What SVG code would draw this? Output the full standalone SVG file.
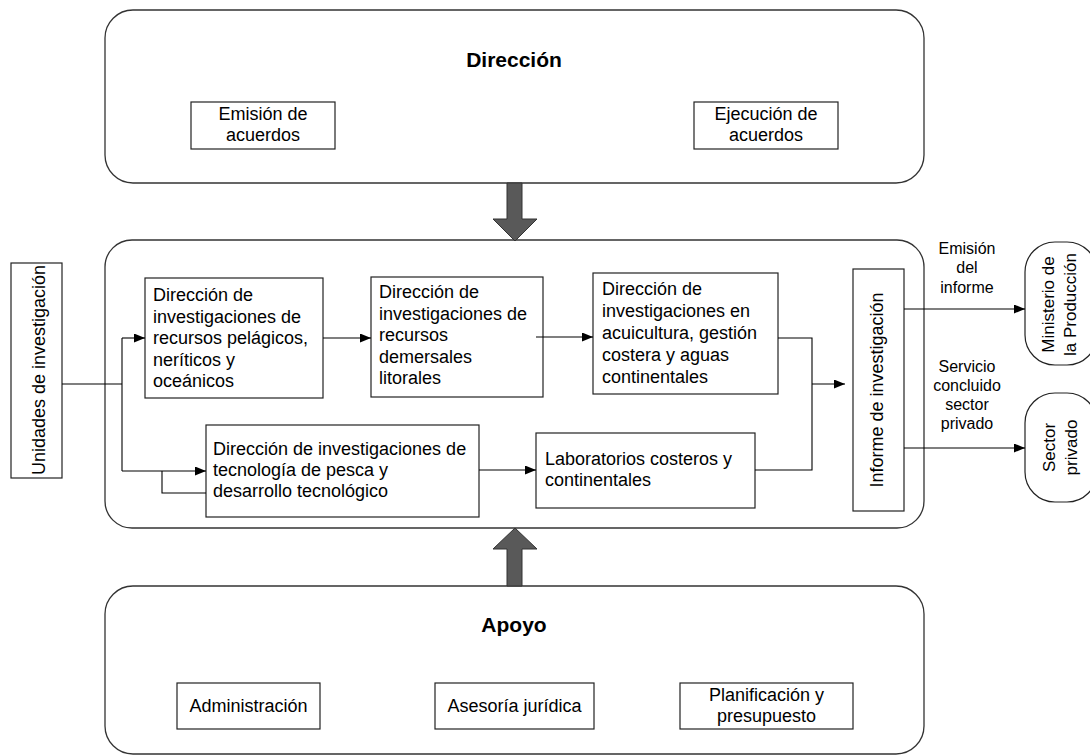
<svg xmlns="http://www.w3.org/2000/svg" width="1090" height="756" viewBox="0 0 1090 756">
<defs>
<style>
text{font-family:"Liberation Sans",Arial,sans-serif;fill:#000}
.t{font-size:18px}
.c{text-anchor:middle}
.b{font-weight:bold;font-size:21px}
.s{font-size:16px}
.r{font-size:17px}
.frame{fill:#fff;stroke:#333;stroke-width:1.3}
.box{fill:#fff;stroke:#222;stroke-width:1.2}
.fat{fill:#595959;stroke:#333;stroke-width:1}
.ln{fill:none;stroke:#000;stroke-width:1.1}
</style>
<marker id="ah" markerUnits="userSpaceOnUse" markerWidth="12" markerHeight="10" refX="11" refY="4.5" orient="auto">
<path d="M0,0 L11,4.5 L0,9 Z" fill="#000"/>
</marker>
</defs>
<rect width="1090" height="756" fill="#fff"/>

<g id="direccion">
<rect class="frame" x="105" y="10" width="819" height="173" rx="28"/>
<text class="b c" x="514" y="67">Dirección</text>
</g>
<g id="emision-acuerdos">
<rect class="box" x="191" y="102" width="144" height="47"/>
<text class="t c" x="263" y="120">Emisión de</text>
<text class="t c" x="263" y="141">acuerdos</text>
</g>
<g id="ejecucion-acuerdos">
<rect class="box" x="694" y="102" width="144" height="47"/>
<text class="t c" x="766" y="120">Ejecución de</text>
<text class="t c" x="766" y="141">acuerdos</text>
</g>

<g id="operaciones">
<rect class="frame" x="105" y="240" width="819" height="288" rx="27"/>
</g>

<g id="apoyo">
<rect class="frame" x="105" y="586" width="819" height="168" rx="28"/>
<text class="b c" x="514" y="632">Apoyo</text>
</g>
<g id="administracion">
<rect class="box" x="177" y="683" width="143" height="46"/>
<text class="t c" x="248.5" y="712">Administración</text>
</g>
<g id="asesoria">
<rect class="box" x="435" y="683" width="159" height="46"/>
<text class="t c" x="514.5" y="712">Asesoría jurídica</text>
</g>
<g id="planificacion">
<rect class="box" x="680" y="683" width="173" height="46"/>
<text class="t c" x="766.5" y="701">Planificación y</text>
<text class="t c" x="766.5" y="722">presupuesto</text>
</g>

<g id="fat-arrows">
<path class="fat" d="M507,183 L522,183 L522,219 L537,219 L515,241 L493,219 L507,219 Z"/>
<path class="fat" d="M507,586 L522,586 L522,549 L537,549 L515,528 L493,549 L507,549 Z"/>
</g>

<g id="unidades">
<rect class="box" x="11" y="263" width="51" height="215"/>
<text class="t c" transform="translate(45,370) rotate(-90)">Unidades de investigación</text>
</g>

<g id="pelagicos">
<rect class="box" x="145" y="278" width="178" height="120"/>
<text class="t" x="153" y="301">Dirección de</text>
<text class="t" x="153" y="322.5">investigaciones de</text>
<text class="t" x="153" y="344">recursos pelágicos,</text>
<text class="t" x="153" y="365.5">neríticos y</text>
<text class="t" x="153" y="387">oceánicos</text>
</g>

<g id="demersales">
<rect class="box" x="371" y="277" width="172" height="120"/>
<text class="t" x="379" y="298">Dirección de</text>
<text class="t" x="379" y="319.5">investigaciones de</text>
<text class="t" x="379" y="341">recursos</text>
<text class="t" x="379" y="362.5">demersales</text>
<text class="t" x="379" y="384">litorales</text>
</g>

<g id="acuicultura">
<rect class="box" x="593" y="273" width="185" height="121"/>
<text class="t" x="602" y="295">Dirección de</text>
<text class="t" x="602" y="317">investigaciones en</text>
<text class="t" x="602" y="339">acuicultura, gestión</text>
<text class="t" x="602" y="361">costera y aguas</text>
<text class="t" x="602" y="383">continentales</text>
</g>

<g id="tecnologia">
<rect class="box" x="206" y="425" width="273" height="92"/>
<text class="t" x="213" y="455">Dirección de investigaciones de</text>
<text class="t" x="213" y="476">tecnología de pesca y</text>
<text class="t" x="213" y="497">desarrollo tecnológico</text>
</g>

<g id="laboratorios">
<rect class="box" x="536" y="433" width="219" height="75"/>
<text class="t" x="545" y="465">Laboratorios costeros y</text>
<text class="t" x="545" y="486">continentales</text>
</g>

<g id="informe">
<rect class="box" x="853" y="269" width="51" height="242"/>
<text class="t c" transform="translate(883,390) rotate(-90)">Informe de investigación</text>
</g>

<g id="ministerio">
<rect class="box" x="1025" y="242" width="72" height="123" rx="30"/>
<text class="r c" transform="translate(1054,304.5) rotate(-90)">Ministerio de</text>
<text class="r c" transform="translate(1076,304.5) rotate(-90)">la Producción</text>
</g>

<g id="sector-privado">
<rect class="box" x="1025" y="393" width="72" height="109" rx="30"/>
<text class="r c" transform="translate(1055,447.5) rotate(-90)">Sector</text>
<text class="r c" transform="translate(1077,447.5) rotate(-90)">privado</text>
</g>

<g id="connectors">
<polyline class="ln" points="62,384 122,384"/>
<polyline class="ln" points="122,338 122,471"/>
<polyline class="ln" points="122,338 145,338" marker-end="url(#ah)"/>
<polyline class="ln" points="122,471 206,471" marker-end="url(#ah)"/>
<polyline class="ln" points="206,493 162,493 162,471"/>
<polyline class="ln" points="323,338 371,338" marker-end="url(#ah)"/>
<polyline class="ln" points="536,337 593,337" marker-end="url(#ah)"/>
<polyline class="ln" points="479,470 536,470" marker-end="url(#ah)"/>
<polyline class="ln" points="778,338 812,338 812,470 755,470"/>
<polyline class="ln" points="812,384 845,384" marker-end="url(#ah)"/>
<polyline class="ln" points="904,309 1025,309" marker-end="url(#ah)"/>
<polyline class="ln" points="904,448 1025,448" marker-end="url(#ah)"/>
<text class="s c" x="967" y="254">Emisión</text>
<text class="s c" x="967" y="273">del</text>
<text class="s c" x="967" y="293">informe</text>
<text class="s c" x="967" y="372">Servicio</text>
<text class="s c" x="967" y="391">concluido</text>
<text class="s c" x="967" y="410">sector</text>
<text class="s c" x="967" y="429">privado</text>
</g>
</svg>
